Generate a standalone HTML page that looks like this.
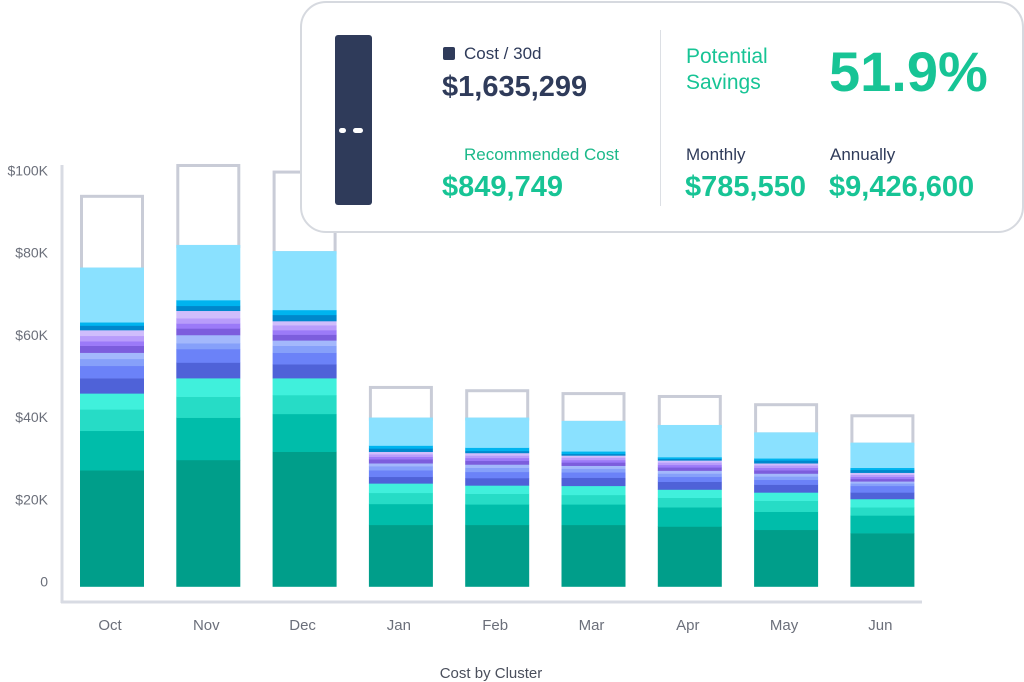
<!DOCTYPE html>
<html><head><meta charset="utf-8"><style>
body{margin:0;width:1024px;height:682px;background:#fff;overflow:hidden;font-family:"Liberation Sans",sans-serif;position:relative}
svg{position:absolute;left:0;top:0}
.card{position:absolute;left:300px;top:1px;width:720px;height:228px;border:2px solid #d6d9df;border-radius:26px;background:#fff}
.t{position:absolute;white-space:nowrap}
</style></head><body>
<svg id="chart" width="1024" height="682"></svg>
<div class="card">
  <div style="position:absolute;left:33px;top:32px;width:37px;height:170px;background:#2f3b5a;border-radius:3px">
    <div style="position:absolute;left:4px;top:93px;width:7px;height:5px;background:#fff;border-radius:3px"></div>
    <div style="position:absolute;left:18px;top:93px;width:10px;height:5px;background:#fff;border-radius:3px"></div>
  </div>
  <div style="position:absolute;left:141px;top:44px;width:12px;height:13px;background:#2f3b5a;border-radius:2px"></div>
  <div class="t" style="left:162px;top:41px;font-size:17px;color:#2f3b5a">Cost / 30d</div>
  <div class="t" style="left:140px;top:68px;font-size:29px;font-weight:bold;color:#2f3b5a">$1,635,299</div>
  <div class="t" style="left:162px;top:142px;font-size:17px;color:#1cb98a">Recommended Cost</div>
  <div class="t" style="left:140px;top:168px;font-size:29px;font-weight:bold;color:#17c495">$849,749</div>
  <div style="position:absolute;left:358px;top:27px;width:1px;height:176px;background:#dcdfe4"></div>
  <div class="t" style="left:384px;top:41px;font-size:21px;line-height:26px;color:#17c495">Potential<br>Savings</div>
  <div class="t" style="left:527px;top:36px;font-size:56px;font-weight:bold;color:#17c495">51.9%</div>
  <div class="t" style="left:384px;top:142px;font-size:17px;color:#2f3b5a">Monthly</div>
  <div class="t" style="left:528px;top:142px;font-size:17px;color:#2f3b5a">Annually</div>
  <div class="t" style="left:383px;top:168px;font-size:29px;font-weight:bold;color:#17c495">$785,550</div>
  <div class="t" style="left:527px;top:168px;font-size:29px;font-weight:bold;color:#17c495">$9,426,600</div>
</div>
<script>
const months=["Oct","Nov","Dec","Jan","Feb","Mar","Apr","May","Jun"];
const totals=[95.3,102.8,101.2,48.8,48.0,47.3,46.6,44.6,41.9];
const segOct=[28.3,9.6,5.2,3.9,3.7,3.0,1.7,1.5,1.7,1.1,1.3,1.4,1.1,0.8,13.3];
const segNov=[30.8,10.3,5.1,4.5,3.8,3.3,1.4,2.0,1.6,1.2,1.3,1.8,1.2,1.4,13.4];
const segDec=[32.8,9.2,4.6,4.1,3.4,2.8,1.7,1.3,1.4,1.1,1.2,1.0,1.5,1.2,14.3];
const segJan=[15.0,5.1,2.7,2.3,1.6,1.6,1.0,0.7,1.0,0.6,0.6,0.6,0.8,0.7,6.8];
const segFeb=[15.0,5.0,2.6,2.0,1.8,1.5,1.0,0.8,0.9,0.7,0.6,0.6,0.5,0.8,7.3];
const segMar=[15.0,5.0,2.3,2.2,2.0,1.3,0.9,0.7,0.8,0.6,0.6,0.5,0.4,0.6,7.4];
const segApr=[14.6,4.7,2.3,2.0,1.9,1.2,0.8,0.7,0.8,0.6,0.6,0.5,0.4,0.4,7.8];
const segMay=[13.8,4.4,2.7,2.0,1.9,1.2,0.8,0.7,0.8,0.6,0.6,0.5,0.7,0.5,6.3];
const segJun=[13.0,4.3,2.0,2.0,1.6,1.6,0.6,0.5,0.6,0.5,0.5,0.5,0.7,0.5,6.1];
const yTicks=[0,20,40,60,80,100];
const yTickLabels=["0","$20K","$40K","$60K","$80K","$100K"];
const colors=["#009e8a","#00bdaa","#26dcc6","#40f0dc","#4f62d8","#6b82f8","#86a0fa","#a3b8fc","#7c5ddd","#9b7af8","#b89cfb","#d0bdfc","#0088cc","#00b4ef","#8ae1ff"];
const segs=[segOct,segNov,segDec,segJan,segFeb,segMar,segApr,segMay,segJun];
const NS="http://www.w3.org/2000/svg";
const svg=document.getElementById('chart');
const y0=586.5,ppk=4.11;
const y=v=>y0-v*ppk;
const x=i=>80+i*96.3;
const bw=64;
function mk(tag,attrs,parent){const e=document.createElementNS(NS,tag);for(const k in attrs)e.setAttribute(k,attrs[k]);(parent||svg).appendChild(e);return e;}
// axes
let ax=mk('line',{x1:62,y1:165,x2:62,y2:603,stroke:'#d8dbe3','stroke-width':3});


let bx=mk('line',{x1:61,y1:602,x2:922,y2:602,stroke:'#d8dbe3','stroke-width':3});


yTicks.forEach((t,i)=>{
  const e=mk('text',{x:48,y:y(t)+0,'text-anchor':'end','font-size':14,fill:'#6b6f7a','font-family':'Liberation Sans'});
  
  
  e.textContent=yTickLabels[i];
});
months.forEach((m,i)=>{
  const xx=x(i);
  let stackTop=segs[i].reduce((a,b)=>a+b,0);
  const o=mk('rect',{x:xx+1.5,y:y(totals[i])+1.5,width:bw-3,height:(totals[i]-stackTop)*ppk,fill:'#fff',stroke:'#c9ccd7','stroke-width':3});
  
  
  let acc=0;
  segs[i].forEach((v,j)=>{
    const r=mk('rect',{x:xx,y:y(acc+v),width:bw,height:v*ppk+0.3,fill:colors[j]});
    
    
    acc+=v;
  });
  const l=mk('text',{x:xx+bw/2-2,y:630,'text-anchor':'middle','font-size':15,fill:'#6b6f7a','font-family':'Liberation Sans'});
  
  
  l.textContent=m;
});
const tt=mk('text',{x:491,y:678,'text-anchor':'middle','font-size':15,fill:'#4a4f5c','font-family':'Liberation Sans'});


tt.textContent='Cost by Cluster';
</script>
</body></html>
